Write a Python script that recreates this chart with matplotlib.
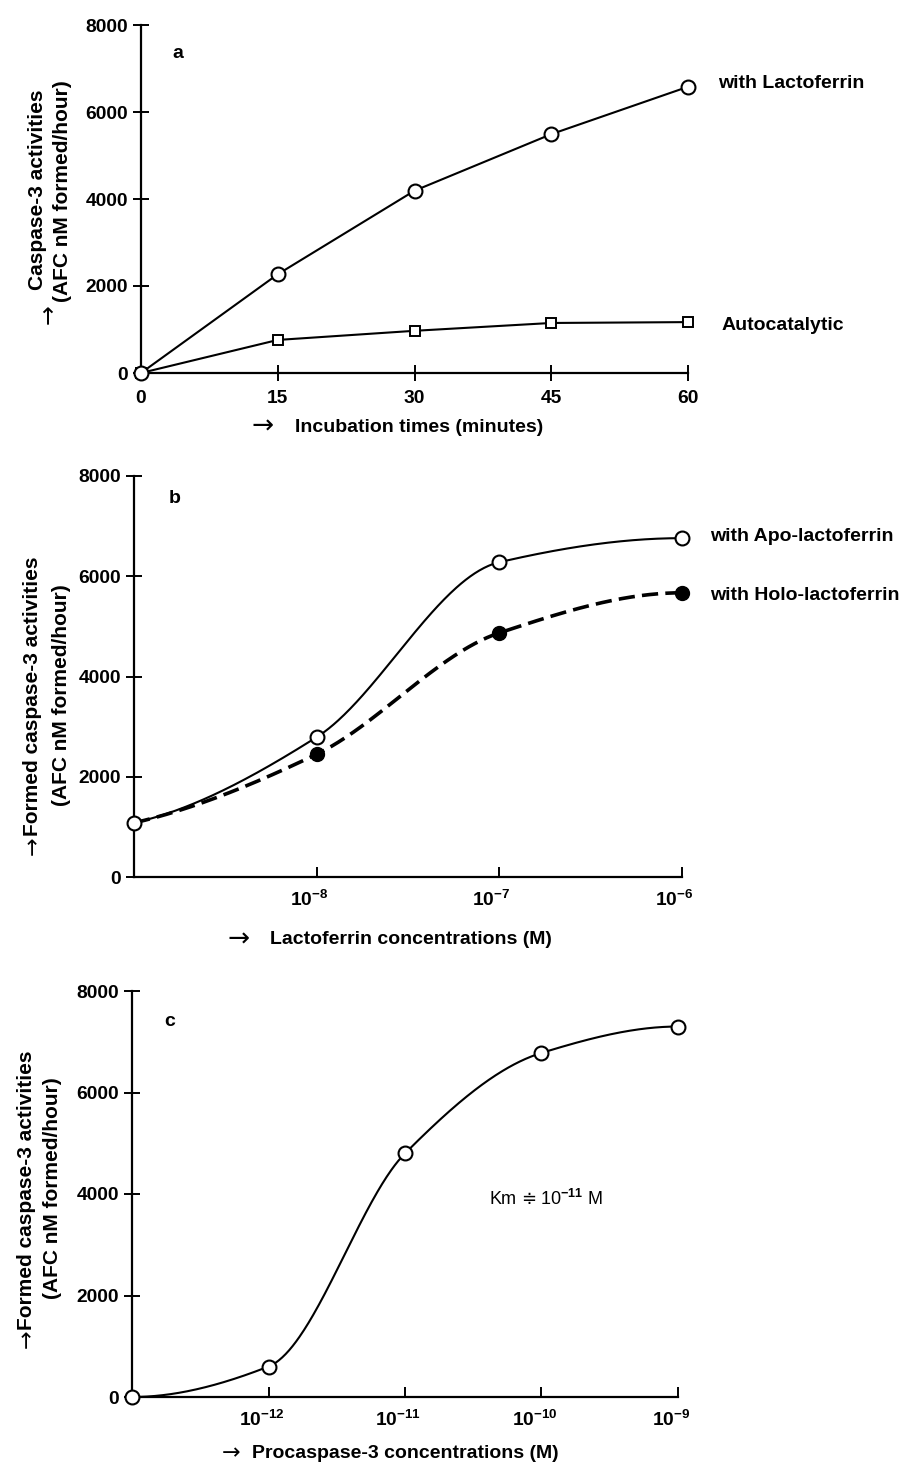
import numpy as np
import matplotlib
matplotlib.use('Agg')
import matplotlib.pyplot as plt
from matplotlib.ticker import NullLocator, FixedLocator, FixedFormatter
from matplotlib.transforms import ScaledTranslation

plt.rcParams['font.family'] = ['Liberation Sans', 'DejaVu Sans']
plt.rcParams['font.weight'] = 'bold'
plt.rcParams['mathtext.fontset'] = 'custom'
plt.rcParams['mathtext.rm'] = 'Liberation Sans'
plt.rcParams['mathtext.bf'] = 'Liberation Sans:bold'
plt.rcParams['mathtext.it'] = 'Liberation Sans:italic'

# ---------------- data ----------------
# Panel a
time_min = [0, 15, 30, 45, 60]
lacto_a = [0, 2270, 4190, 5490, 6580]
auto_a = [0, 760, 970, 1150, 1170]
a_xticks = [0, 15, 30, 45, 60]
yticks = [0, 2000, 4000, 6000, 8000]

# Panel b
lf_conc = [1e-9, 1e-8, 1e-7, 1e-6]
apo_b = [1080, 2790, 6280, 6760]
holo_b = [1080, 2450, 4870, 5670]
b_xticks = [1e-8, 1e-7, 1e-6]
b_xticklabels = [r'$\mathbf{10^{-8}}$', r'$\mathbf{10^{-7}}$', r'$\mathbf{10^{-6}}$']

# Panel c
pro_conc = [1e-13, 1e-12, 1e-11, 1e-10, 1e-9]
act_c = [0, 600, 4800, 6780, 7300]
c_xticks = [1e-12, 1e-11, 1e-10, 1e-9]
c_xticklabels = [r'$\mathbf{10^{-12}}$', r'$\mathbf{10^{-11}}$', r'$\mathbf{10^{-10}}$', r'$\mathbf{10^{-9}}$']

W, H = 904, 1466
fig = plt.figure(figsize=(W / 100, H / 100), dpi=100)


def rect(l, r, t, b):
    return [l / W, 1 - b / H, (r - l) / W, (b - t) / H]


def ftext(xp, yp, s, **kw):
    return fig.text(xp / W, 1 - yp / H, s, **kw)


def smooth(x, y, n=120):
    """Monotone cubic (PCHIP) curve drawn through the measured points."""
    x = np.asarray(x, float)
    y = np.asarray(y, float)
    h = np.diff(x)
    d = np.diff(y) / h
    m = np.zeros_like(y)
    for k in range(1, len(x) - 1):
        if d[k - 1] * d[k] > 0:
            w1 = 2 * h[k] + h[k - 1]
            w2 = h[k] + 2 * h[k - 1]
            m[k] = (w1 + w2) / (w1 / d[k - 1] + w2 / d[k])

    def end(h0, h1, d0, d1):
        mm = ((2 * h0 + h1) * d0 - h0 * d1) / (h0 + h1)
        if np.sign(mm) != np.sign(d0):
            mm = 0.0
        elif np.sign(d0) != np.sign(d1) and abs(mm) > abs(3 * d0):
            mm = 3 * d0
        return mm

    m[0] = end(h[0], h[1], d[0], d[1])
    m[-1] = end(h[-1], h[-2], d[-1], d[-2])
    xs, ys = [], []
    t = np.linspace(0, 1, n)
    h00 = 2 * t**3 - 3 * t**2 + 1
    h10 = t**3 - 2 * t**2 + t
    h01 = -2 * t**3 + 3 * t**2
    h11 = t**3 - t**2
    for k in range(len(x) - 1):
        xs.append(x[k] + t * h[k])
        ys.append(h00 * y[k] + h10 * h[k] * m[k] + h01 * y[k + 1] + h11 * h[k] * m[k + 1])
    return np.concatenate(xs), np.concatenate(ys)


FS = 14      # series / axis labels
TFS = 13.8   # tick labels
YFS = 15     # y labels
LW = 1.5
ARROW = dict(family='DejaVu Sans', fontweight='normal', ha='center', va='center')


def style(ax, xdir='inout', shift_px=0):
    for s in ['top', 'right']:
        ax.spines[s].set_visible(False)
    for s in ['left', 'bottom']:
        ax.spines[s].set_linewidth(1.6)
    ax.tick_params(axis='y', direction='inout', length=11, width=1.4, labelsize=TFS, pad=4)
    ax.tick_params(axis='x', direction=xdir, length=11 if xdir == 'inout' else 7,
                   width=1.4, labelsize=TFS, pad=9)
    ax.set_yticks(yticks)
    ax.set_ylim(0, 8000)
    for lab in ax.get_yticklabels() + ax.get_xticklabels():
        lab.set_fontweight('bold')
    if shift_px:
        off = ScaledTranslation(shift_px / 100, 0, fig.dpi_scale_trans)
        for lab in ax.get_xticklabels():
            lab.set_transform(lab.get_transform() + off)


# ---------------- panel a ----------------
axa = fig.add_axes(rect(141, 688, 25, 373))
axa.plot(time_min, auto_a, color='black', lw=LW, marker='s', ms=7.5,
         mfc='white', mec='black', mew=1.4, clip_on=False, zorder=3)
axa.plot(time_min, lacto_a, color='black', lw=LW, marker='o', ms=10,
         mfc='white', mec='black', mew=1.5, clip_on=False, zorder=4)
axa.set_xlim(0, 60)
axa.set_xticks(a_xticks)
style(axa, 'inout')
axa.tick_params(axis='x', pad=7)

ftext(178, 53, 'a', fontsize=FS, ha='center', va='center')
ftext(718, 83, 'with Lactoferrin', fontsize=FS, ha='left', va='center')
ftext(722, 326, 'Autocatalytic', fontsize=FS, ha='left', va='center')
ftext(38, 190, 'Caspase-3 activities', fontsize=YFS, rotation=90, ha='center', va='center')
ftext(63, 191, '(AFC nM formed/hour)', fontsize=YFS, rotation=90, ha='center', va='center')
ftext(49, 314, '\u2192', fontsize=17, rotation=90, **ARROW)
ftext(263, 427, '\u2192', fontsize=19, **ARROW)
ftext(295, 427, 'Incubation times (minutes)', fontsize=FS, ha='left', va='center')

# ---------------- panel b ----------------
axb = fig.add_axes(rect(134, 682, 476, 877))
axb.set_xscale('log')
lx = np.log10(lf_conc)
sx, sy = smooth(lx, holo_b)
axb.plot(10**sx, sy, color='black', lw=2.6, dashes=(4.5, 2.0), clip_on=False, zorder=2)
axb.plot(lf_conc[1:], holo_b[1:], ls='none', marker='o', ms=10, mfc='black',
         mec='black', clip_on=False, zorder=3)
sx, sy = smooth(lx, apo_b)
axb.plot(10**sx, sy, color='black', lw=LW, clip_on=False, zorder=4)
axb.plot(lf_conc, apo_b, ls='none', marker='o', ms=10, mfc='white',
         mec='black', mew=1.5, clip_on=False, zorder=5)
axb.set_xlim(1e-9, 1e-6)
axb.xaxis.set_major_locator(FixedLocator(b_xticks))
axb.xaxis.set_major_formatter(FixedFormatter(b_xticklabels))
axb.xaxis.set_minor_locator(NullLocator())
style(axb, 'in', shift_px=-8)

ftext(175, 499, 'b', fontsize=FS, ha='center', va='center')
ftext(710, 537, 'with Apo-lactoferrin', fontsize=FS, ha='left', va='center')
ftext(710, 595, 'with Holo-lactoferrin', fontsize=FS, ha='left', va='center')
ftext(33, 557, 'Formed caspase-3 activities', fontsize=YFS, rotation=90, ha='center', va='top')
ftext(33, 846, '\u2192', fontsize=16, rotation=90, **ARROW)
ftext(62, 695, '(AFC nM formed/hour)', fontsize=YFS, rotation=90, ha='center', va='center')
ftext(239, 940, '\u2192', fontsize=19, **ARROW)
ftext(270, 940, 'Lactoferrin concentrations (M)', fontsize=FS, ha='left', va='center')

# ---------------- panel c ----------------
axc = fig.add_axes(rect(132, 678, 991, 1397))
axc.set_xscale('log')
lx = np.log10(pro_conc)
sx, sy = smooth(lx, act_c)
axc.plot(10**sx, sy, color='black', lw=LW, clip_on=False, zorder=3)
axc.plot(pro_conc, act_c, ls='none', marker='o', ms=10, mfc='white',
         mec='black', mew=1.5, clip_on=False, zorder=4)
axc.set_xlim(1e-13, 1e-9)
axc.xaxis.set_major_locator(FixedLocator(c_xticks))
axc.xaxis.set_major_formatter(FixedFormatter(c_xticklabels))
axc.xaxis.set_minor_locator(NullLocator())
style(axc, 'in', shift_px=-7)

ftext(170, 1022, 'c', fontsize=FS, ha='center', va='center')

# Km annotation built from three pieces (the "≑" sign needs DejaVu Sans)
renderer = fig.canvas.get_renderer()
KFS = 13
t1 = ftext(490, 1199, 'Km', fontsize=KFS, fontweight='normal', ha='left', va='center')
x1 = t1.get_window_extent(renderer).x1
t2 = fig.text((x1 + 4) / W, 1 - 1199 / H, '\u2251', fontsize=KFS, fontweight='normal',
              family='DejaVu Sans', ha='left', va='center')
x2 = t2.get_window_extent(renderer).x1
fig.text((x2 + 4) / W, 1 - 1199 / H, '10$^{-11}$ M', fontsize=KFS, fontweight='normal',
         ha='left', va='center')

ftext(27, 1050, 'Formed caspase-3 activities', fontsize=YFS, rotation=90, ha='center', va='top')
ftext(27, 1339, '\u2192', fontsize=16, rotation=90, **ARROW)
ftext(53, 1188, '(AFC nM formed/hour)', fontsize=YFS, rotation=90, ha='center', va='center')
ftext(231, 1453, '\u2192', fontsize=16, **ARROW)
ftext(252, 1453, 'Procaspase-3 concentrations (M)', fontsize=FS, ha='left', va='center')

fig.savefig('out.png', dpi=100)
